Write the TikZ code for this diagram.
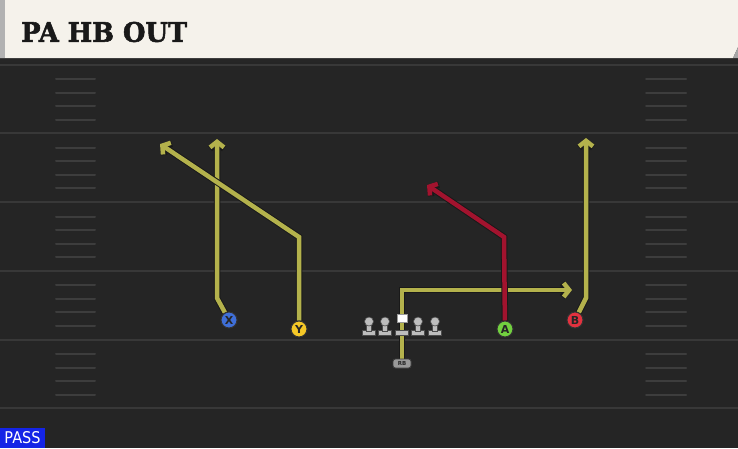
\documentclass[tikz,border=0pt]{standalone}
\usepackage{fontspec}
\newfontfamily\titlefont{DejaVu Serif}[BoldFeatures={FakeBold=2}]
\newfontfamily\labelfont{DejaVu Sans}
\usetikzlibrary{arrows.meta}
\definecolor{field}{HTML}{252525}
\definecolor{fieldline}{HTML}{383838}
\definecolor{hashline}{HTML}{3d3d3d}
\definecolor{panel}{HTML}{F5F2EB}
\definecolor{routeyel}{HTML}{B4B24C}
\definecolor{routered}{HTML}{A2132E}
\definecolor{xblue}{HTML}{3F6FD8}
\definecolor{yyel}{HTML}{F5C827}
\definecolor{agreen}{HTML}{72D13F}
\definecolor{bred}{HTML}{E3323F}
\definecolor{lmgray}{HTML}{BDBDBD}
\definecolor{passblue}{HTML}{1424E6}
\pgfdeclarelayer{bg}
\pgfdeclarelayer{routes}
\pgfsetlayers{bg,routes,main}
\tikzset{
  yardline/.style={draw=fieldline,line width=2pt},
  hashmark/.style={draw=hashline,line width=2pt,line cap=round},
  route/.style={line width=4.5pt,-{Straight Barb[length=5.5pt,width=14pt]},
    preaction={draw=black!90,line width=6.5pt}},
  player/.style={circle,draw=black!80,line width=1pt,minimum size=16pt,inner sep=0pt,
    font=\labelfont\bfseries\fontsize{11}{11}\selectfont,text=black!85},
  lineman/.pic={
    \filldraw[lmgray,draw=black!70,line width=0.6pt] (-6.5,5.5) rectangle (6.5,10);
    \filldraw[lmgray,draw=black!70,line width=0.6pt] (-2.5,-1) rectangle (2.5,6);
    \filldraw[lmgray,draw=black!70,line width=0.6pt] (0,-3.5) circle[radius=4.5];
  },
  centerman/.pic={
    \filldraw[lmgray,draw=black!70,line width=0.6pt] (-6.5,5.5) rectangle (6.5,10);
    \filldraw[white,draw=black!40,line width=0.6pt] (-5,-11) rectangle (5,-3);
  }
}
\begin{document}
\begin{tikzpicture}[x=1pt,y=-1pt]
\useasboundingbox (0,0) rectangle (738,448);
\begin{pgfonlayer}{bg}
\fill[field] (0,0) rectangle (738,448);
\foreach \k in {0,...,5} \draw[yardline] (0,64.5+\k*68.75) -- (738,64.5+\k*68.75);
\foreach \k in {0,...,4}
  \foreach \o in {14.5,28,41.5,55} {
    \draw[hashmark] (56,64.5+\k*68.75+\o) -- (95,64.5+\k*68.75+\o);
    \draw[hashmark] (646,64.5+\k*68.75+\o) -- (686,64.5+\k*68.75+\o);
  }
\fill[black!85] (0,58) rectangle (738,62);
\fill[panel] (0,0) -- (738,0) -- (738,47) -- (733,58) -- (0,58) -- cycle;
\fill[black!35] (738,47) -- (738,58) -- (733,58) -- cycle;
\fill[black!30] (0,0) rectangle (5,58);
\end{pgfonlayer}
\node[anchor=west,inner sep=0pt,text=black!90] (title) at (21,32)
  {\resizebox{166pt}{20pt}{\titlefont\bfseries PA HB OUT}};
\node[fill=passblue,text=white,inner sep=0pt,minimum width=45pt,minimum height=20pt] (pass) at (22.5,438)
  {\resizebox{36pt}{12pt}{\labelfont PASS}};
\node[player,fill=xblue] (X) at (229,320) {X};
\node[player,fill=yyel] (Y) at (299,329) {Y};
\node[player,fill=agreen] (A) at (505,329) {A};
\node[player,fill=bred] (B) at (575,320) {B};
\node[rounded corners=2.5pt,fill=black!40,draw=black!75,line width=0.8pt,minimum width=18pt,minimum height=9pt,
  inner sep=0pt,font=\labelfont\bfseries\fontsize{5.5}{5.5}\selectfont,text=black!85] (RB) at (402,363.5) {RB};
\pic (lt) at (369,325) {lineman};
\pic (lg) at (385,325) {lineman};
\pic (c) at (402,325) {centerman};
\pic (rg) at (418,325) {lineman};
\pic (rt) at (435,325) {lineman};
\coordinate (x1) at (217,298);
\coordinate (x2) at (217,139);
\coordinate (y1) at (299,237);
\coordinate (y2) at (160,144);
\coordinate (a1) at (504,237);
\coordinate (a2) at (427,185);
\coordinate (b1) at (586,298);
\coordinate (b2) at (586,138);
\coordinate (r1) at (402,290);
\coordinate (r2) at (572,290);
\begin{pgfonlayer}{routes}
\draw[route,routeyel] (X) -- (x1) -- (x2);
\draw[route,routeyel] (Y) -- (y1) -- (y2);
\draw[route,routeyel] (B) -- (b1) -- (b2);
\draw[route,routeyel] (RB) -- (r1) -- (r2);
\draw[route,routered] (A) -- (a1) -- (a2);
\end{pgfonlayer}
\end{tikzpicture}
\end{document}
